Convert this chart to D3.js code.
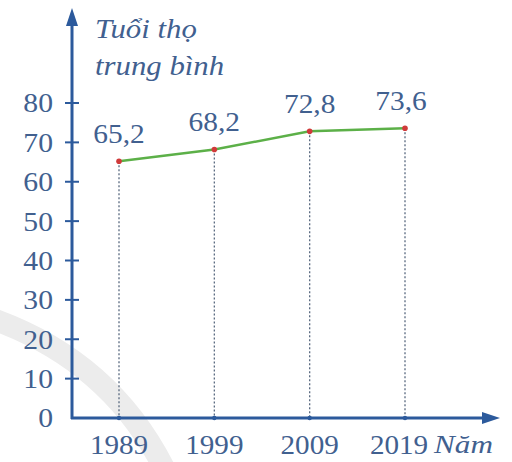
<!DOCTYPE html>
<html><head><meta charset="utf-8">
<script src="https://cdn.jsdelivr.net/npm/d3@7/dist/d3.min.js"></script>
<style>body{margin:0;background:#fff}svg{display:block}</style>
</head><body>
<script>
const years = ["1989", "1999", "2009", "2019"];
const values = [65.2, 68.2, 72.8, 73.6];
const valueLabels = ["65,2", "68,2", "72,8", "73,6"];
const yTicks = [0, 10, 20, 30, 40, 50, 60, 70, 80];

const W = 512, H = 462;
const svg = d3.select("body").append("svg").attr("width", W).attr("height", H);
const axisColor = "#2c5a9c", textColor = "#41608f";
const serif = "Liberation Serif, DejaVu Serif, serif";

// watermark arc
svg.append("path")
  .attr("d", "M -10 318 Q 110 360 165 470")
  .attr("fill", "none").attr("stroke", "#ececec").attr("stroke-width", 22);

const x0 = 72, yBase = 418;
const y = d3.scaleLinear().domain([0, 80]).range([yBase, 103]);
const x = d3.scalePoint().domain(years).range([119, 405]);

function stretchText(sel, sx) {
  sel.attr("transform", function() {
    const tx = +this.getAttribute("x");
    return `translate(${tx * (1 - sx)},0) scale(${sx},1)`;
  });
}

// y ticks
const yAxis = svg.append("g");
yAxis.selectAll("line").data(yTicks.filter(d => d > 0)).join("line")
  .attr("x1", x0 - 7).attr("x2", x0 + 7)
  .attr("y1", d => y(d)).attr("y2", d => y(d))
  .attr("stroke", axisColor).attr("stroke-width", 2);
yAxis.selectAll("text").data(yTicks).join("text")
  .attr("x", 53).attr("y", d => y(d) + 9.5)
  .attr("text-anchor", "end").attr("font-family", serif).attr("font-size", 28)
  .attr("fill", textColor).text(d => d).call(stretchText, 1.06);

// dotted droplines
svg.selectAll(".drop").data(values).join("line")
  .attr("x1", (d, i) => x(years[i])).attr("x2", (d, i) => x(years[i]))
  .attr("y1", d => y(d)).attr("y2", yBase)
  .attr("stroke", "#5a6a80").attr("stroke-width", 1.3).attr("stroke-dasharray", "2,2");

// axes
svg.append("line").attr("x1", x0).attr("x2", x0).attr("y1", yBase + 1).attr("y2", 22)
  .attr("stroke", axisColor).attr("stroke-width", 3);
svg.append("path").attr("d", `M ${x0} 8 L ${x0 - 6} 26 L ${x0 + 6} 26 Z`).attr("fill", axisColor);
svg.append("line").attr("x1", x0 - 1).attr("x2", 486).attr("y1", yBase).attr("y2", yBase)
  .attr("stroke", axisColor).attr("stroke-width", 3);
svg.append("path").attr("d", `M 500 ${yBase} L 482 ${yBase - 6} L 482 ${yBase + 6} Z`).attr("fill", axisColor);

// x axis dots
svg.selectAll(".xdot").data(years).join("circle")
  .attr("cx", d => x(d)).attr("cy", yBase).attr("r", 2.2).attr("fill", axisColor);

// line
const line = d3.line().x((d, i) => x(years[i])).y(d => y(d));
svg.append("path").datum(values).attr("d", line)
  .attr("fill", "none").attr("stroke", "#5cb048").attr("stroke-width", 2.5);
svg.selectAll(".pt").data(values).join("circle")
  .attr("cx", (d, i) => x(years[i])).attr("cy", d => y(d)).attr("r", 2.8).attr("fill", "#d03a3a");

// value labels
svg.selectAll(".vl").data(values).join("text")
  .attr("x", (d, i) => x(years[i]) + (i === 3 ? -4 : 0)).attr("y", d => y(d) - 18)
  .attr("text-anchor", "middle").attr("font-family", serif).attr("font-size", 28)
  .attr("fill", textColor).text((d, i) => valueLabels[i]).call(stretchText, 1.05);

// year labels
svg.selectAll(".yl").data(years).join("text")
  .attr("x", (d, i) => x(d) - (i === 3 ? 6 : 0)).attr("y", 454)
  .attr("text-anchor", "middle").attr("font-family", serif).attr("font-size", 28)
  .attr("fill", textColor).text(d => d).call(stretchText, 1.04);

// axis titles
svg.append("text").attr("x", 434).attr("y", 453).attr("font-family", serif)
  .attr("font-style", "italic").attr("font-size", 26).attr("fill", textColor).text("Năm")
  .call(stretchText, 1.2);
svg.append("text").attr("x", 95).attr("y", 38).attr("font-family", serif)
  .attr("font-style", "italic").attr("font-size", 28).attr("fill", textColor).text("Tuổi thọ")
  .call(stretchText, 1.1);
svg.append("text").attr("x", 95).attr("y", 75).attr("font-family", serif)
  .attr("font-style", "italic").attr("font-size", 28).attr("fill", textColor).text("trung bình")
  .call(stretchText, 1.1);
</script>
</body></html>
